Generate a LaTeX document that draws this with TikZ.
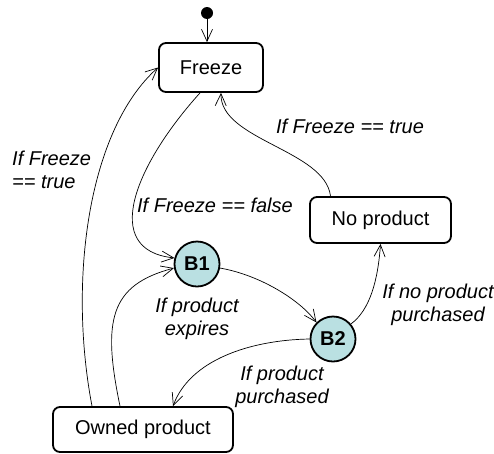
\documentclass[tikz,border=0pt]{standalone}
\usepackage{fontspec}
\setmainfont{Liberation Sans}
\usetikzlibrary{arrows.meta,calc}
\definecolor{bfill}{RGB}{186,224,226}
\begin{document}
\begin{tikzpicture}[x=1pt,y=-1pt,
  every node/.style={font=\fontsize{20}{23}\selectfont},
  state/.style={draw,line width=1.8pt,rounded corners=7pt,inner sep=0pt},
  branch/.style={draw,circle,line width=1.8pt,fill=bfill,minimum size=45pt,inner sep=0pt,font=\fontsize{20}{23}\selectfont\bfseries},
  conn/.style={line width=0.7pt,-{Straight Barb[length=12pt,width=11pt,line width=0.7pt]}},
  lbl/.style={font=\fontsize{20}{23}\selectfont\itshape,align=center,inner sep=0pt}]
\useasboundingbox (0,0) rectangle (494,453);
\node[circle,fill=black,minimum size=12pt,inner sep=0pt] (dot) at (207,13) {};
\node[state,minimum width=104pt,minimum height=49pt] (frz) at (211,67.5) {Freeze};
\node[state,minimum width=141pt,minimum height=46pt] (np) at (380.5,220) {No product};
\node[state,minimum width=180pt,minimum height=45pt] (own) at (143,429.5) {Owned product};
\node[branch] (b1) at (197,264) {B1};
\node[branch] (b2) at (333,339) {B2};

\draw[conn] (dot) -- (dot |- frz.north);
\draw[conn] ([xshift=-51pt]own.north) .. controls (68,280) and (88,130) .. (frz.west);
\draw[conn] ([xshift=-11pt]frz.south) .. controls (135,165) and (100,250) .. (b1.165);
\draw[conn] ([xshift=-23pt]own.north) .. controls (102,320) and (110,285) .. (b1.190);
\draw[conn] (b1.-10) .. controls (260,275) and (300,300) .. (b2.135);
\draw[conn] (b2.180) .. controls (250,340) and (190,360) .. ([xshift=30pt]own.north);
\draw[conn] (b2.40) .. controls (370,310) and (378,280) .. (np.south);
\draw[conn] ([xshift=-50pt]np.north) .. controls (325,150) and (220,140) .. ([xshift=10pt]frz.south);

\node[lbl,align=left,anchor=west] (l1) at (12,170) {If Freeze\\== true};
\node[lbl] (l2) at (215,205) {If Freeze == false};
\node[lbl] (l3) at (350,126) {If Freeze == true};
\node[lbl] (l4) at (197,319) {If product\\expires};
\node[lbl] (l5) at (282,387) {If product\\purchased};
\node[lbl] (l6) at (438,305) {If no product\\purchased};
\end{tikzpicture}
\end{document}
